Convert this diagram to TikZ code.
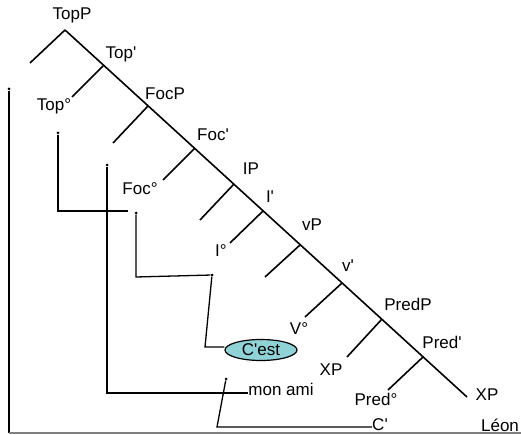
\documentclass[tikz,border=0pt]{standalone}
\usepackage{fontspec}
\setmainfont{Liberation Sans}
\usepackage{tikz}
\usetikzlibrary{shapes.geometric, arrows}
\definecolor{cestfill}{RGB}{143,211,214}
\newcommand{\pq}{\textquotesingle}
\tikzstyle{lbl} = [inner sep=0pt, font=\fontsize{17}{19}\selectfont]
\tikzstyle{branch} = [line width=1.6pt]
\tikzstyle{move} = [line width=1.3pt]
\tikzstyle{dot} = [circle, fill=black, inner sep=0pt, minimum size=3pt]
\tikzstyle{head} = [ellipse, draw=black, line width=1.2pt, fill=cestfill, minimum width=72pt, minimum height=21pt, inner sep=0pt, font=\fontsize{17}{19}\selectfont]

\begin{document}
\begin{tikzpicture}[x=1pt, y=-1pt]
\useasboundingbox (0,0) rectangle (521,435);
% spine
\coordinate (topp) at (65,30);
\coordinate (topbar) at (104,65);
\coordinate (focp) at (148,106);
\coordinate (focbar) at (195,148);
\coordinate (ip) at (234,184);
\coordinate (ibar) at (263,211);
\coordinate (vp) at (300,245);
\coordinate (vbar) at (342,283);
\coordinate (predp) at (382,319);
\coordinate (predbar) at (423,357);
\coordinate (xpend) at (467,397);
% left daughters
\coordinate (toppL) at (30,63);
\coordinate (topbarL) at (72,97);
\coordinate (focpL) at (113,143);
\coordinate (focbarL) at (163,180);
\coordinate (ipL) at (200,220);
\coordinate (ibarL) at (230,243);
\coordinate (vpL) at (265,277);
\coordinate (vbarL) at (305,317);
\coordinate (predpL) at (347,357);
\coordinate (predbarL) at (388,390);

\node (lTopP) [lbl] at (72,15) {TopP};
\node (lTopbar) [lbl] at (121,54) {Top\pq};
\node (lTop) [lbl] at (54,106) {Top°};
\node (lFocP) [lbl] at (165,94) {FocP};
\node (lFocbar) [lbl] at (213,135) {Foc\pq};
\node (lFoc) [lbl] at (140,189) {Foc°};
\node (lIP) [lbl] at (251,169) {IP};
\node (lIbar) [lbl] at (270,197) {I\pq};
\node (lI) [lbl] at (221,251) {I°};
\node (lvP) [lbl] at (312,225) {vP};
\node (lvbar) [lbl] at (348,266) {v\pq};
\node (lV) [lbl] at (299,329) {V°};
\node (lPredP) [lbl] at (408,304) {PredP};
\node (lPredbar) [lbl] at (442,342) {Pred\pq};
\node (lXP) [lbl] at (331,370) {XP};
\node (lPred) [lbl] at (376,399) {Pred°};
\node (lXPend) [lbl] at (487,395) {XP};
\node (leon) [lbl] at (500,425) {Léon};
\node (cprime) [lbl] at (380,425) {C\pq};
\node (monami) [lbl] at (281,389) {mon ami};
\node (cest) [head] at (261,350) {C\pq est};

\draw [branch] (topp) -- (xpend);
\draw [branch] (topp) -- (toppL);
\draw [branch] (topbar) -- (topbarL);
\draw [branch] (focp) -- (focpL);
\draw [branch] (focbar) -- (focbarL);
\draw [branch] (ip) -- (ipL);
\draw [branch] (ibar) -- (ibarL);
\draw [branch] (vp) -- (vpL);
\draw [branch] (vbar) -- (vbarL);
\draw [branch] (predp) -- (predpL);
\draw [branch] (predbar) -- (predbarL);

% movement
\node (d1) [dot] at (9,89) {};
\node (d2) [dot] at (58,133) {};
\node (d3) [dot] at (136,213) {};
\node (d4) [dot] at (212,275) {};
\node (d5) [dot] at (107,165) {};
\node (d6) [dot] at (226,379) {};
\coordinate (c1) at (9,433);
\coordinate (c1e) at (521,433);
\coordinate (c2) at (58,211);
\coordinate (c2e) at (128,211);
\coordinate (c3) at (136,277);
\coordinate (c4) at (205,347);
\coordinate (c5) at (107,393);
\coordinate (c6) at (217,427);

\draw [move] (d1) -- (c1);
\draw [move, gray] (c1) -- (c1e);
\draw [move] (d2) -- (c2) -- (c2e);
\draw [move] (d3) -- (c3) -- (d4);
\draw [move] (d4) -- (c4) -- (c4 -| cest.west);
\draw [move] (d5) -- (c5) -- (c5 -| monami.west);
\draw [move] (d6) -- (c6) -- (c6 -| cprime.west);
\end{tikzpicture}
\end{document}
